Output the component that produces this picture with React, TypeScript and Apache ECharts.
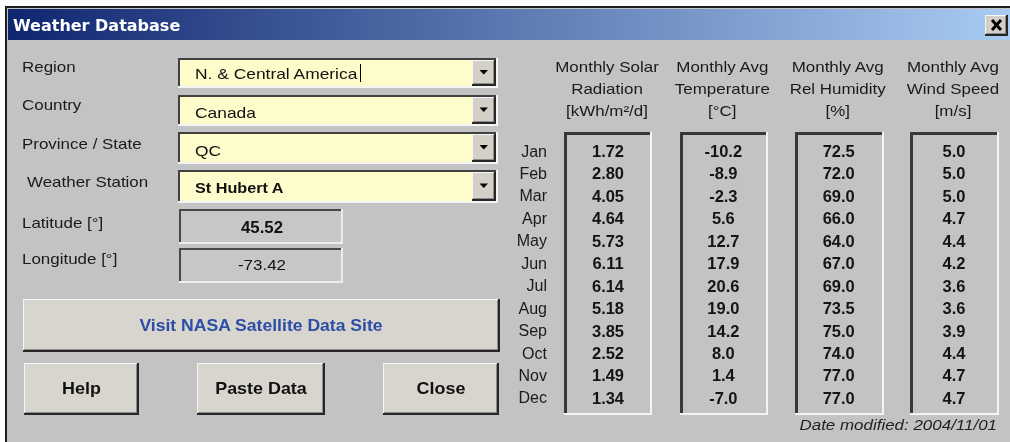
import React, { useEffect, useRef } from "react";
import * as echarts from "echarts";

// ---------- data ----------
const months = ["Jan", "Feb", "Mar", "Apr", "May", "Jun", "Jul", "Aug", "Sep", "Oct", "Nov", "Dec"];
const solarRadiation = [1.72, 2.8, 4.05, 4.64, 5.73, 6.11, 6.14, 5.18, 3.85, 2.52, 1.49, 1.34];
const avgTemperature = [-10.2, -8.9, -2.3, 5.6, 12.7, 17.9, 20.6, 19.0, 14.2, 8.0, 1.4, -7.0];
const relHumidity = [72.5, 72.0, 69.0, 66.0, 64.0, 67.0, 69.0, 73.5, 75.0, 74.0, 77.0, 77.0];
const windSpeed = [5.0, 5.0, 5.0, 4.7, 4.4, 4.2, 3.6, 3.6, 3.9, 4.4, 4.7, 4.7];
const columnHeaders = [
  ["Monthly Solar", "Radiation", "[kWh/m²/d]"],
  ["Monthly Avg", "Temperature", "[°C]"],
  ["Monthly Avg", "Rel Humidity", "[%]"],
  ["Monthly Avg", "Wind Speed", "[m/s]"],
];
const columnDecimals = [2, 1, 1, 1];
const titleText = "Weather Database";
const formLabels = ["Region", "Country", "Province / State", "Weather Station", "Latitude [°]", "Longitude [°]"];
const dropdownValues = ["N. & Central America", "Canada", "QC", "St Hubert A"];
const latitudeText = "45.52";
const longitudeText = "-73.42";
const linkLabel = "Visit NASA Satellite Data Site";
const buttonLabels = ["Help", "Paste Data", "Close"];
const dateModified = "Date modified: 2004/11/01";

// ---------- styling helpers ----------
const FONT = '"Liberation Sans", Arial, Helvetica, sans-serif';
const BODY = "#c3c3c3";
const FACE = "#d8d5ce";
const SX = 1.13;

function txt(x: number, y: number, text: string, o: any = {}) {
  const align = o.align || "left";
  return {
    type: "text",
    x,
    y,
    scaleX: o.sx ?? SX,
    silent: true,
    z: 10,
    style: {
      text,
      fill: o.color || "#1a1a1a",
      fontSize: o.size || 15,
      fontFamily: o.family || FONT,
      fontWeight: o.weight || "normal",
      fontStyle: o.fstyle || "normal",
      textAlign: align,
      align,
      textVerticalAlign: "middle",
      verticalAlign: "middle",
    },
  };
}
function rect(x: number, y: number, w: number, h: number, fill: any) {
  return { type: "rect", silent: true, shape: { x, y, width: w, height: h }, style: { fill } };
}
function sunken(x1: number, y1: number, x2: number, y2: number, fill: string, dk = "#3a3a3a", lt = "#f2f2f2", td = 2, tl = 2) {
  const w = x2 - x1, h = y2 - y1;
  return [
    rect(x1, y1, w, h, lt),
    rect(x1, y1, w - tl, h - tl, dk),
    rect(x1 + td, y1 + td, w - td - tl, h - td - tl, fill),
  ];
}
function raised(x1: number, y1: number, x2: number, y2: number, face: string) {
  const w = x2 - x1, h = y2 - y1;
  return [
    rect(x1, y1, w, h, "#262626"),
    rect(x1, y1, w - 2, h - 2, "#f6f6f6"),
    rect(x1 + 1, y1 + 1, w - 3, h - 3, "#8c8c8c"),
    rect(x1 + 1, y1 + 1, w - 4, h - 4, face),
  ];
}

function buildGraphic() {
  const g: any[] = [];
  // window frame
  g.push(rect(5, 6, 1010, 440, "#1e1e1e"));
  g.push(rect(7, 8, 1008, 436, BODY));
  g.push(
    rect(8, 9, 1004, 31, new echarts.graphic.LinearGradient(0, 0, 1, 0, [
      { offset: 0, color: "#0f2670" },
      { offset: 1, color: "#a9ccf2" },
    ]))
  );
  g.push(txt(13, 25, titleText, { size: 16, weight: "bold", family: '"DejaVu Sans", Verdana, sans-serif', color: "#ffffff", sx: 1 }));
  // close button
  g.push(...raised(985, 15, 1008, 36, "#d4d0c8"));
  g.push({ type: "line", silent: true, z: 10, shape: { x1: 992, y1: 20, x2: 1001, y2: 30 }, style: { stroke: "#000", lineWidth: 3 } });
  g.push({ type: "line", silent: true, z: 10, shape: { x1: 1001, y1: 20, x2: 992, y2: 30 }, style: { stroke: "#000", lineWidth: 3 } });

  // form labels
  const labelY = [67, 105, 144, 182, 223, 259];
  const labelX = [22, 22, 22, 27, 22, 22];
  formLabels.forEach((l, i) => g.push(txt(labelX[i], labelY[i], l)));

  // dropdowns
  const dd = [[58, 88], [95, 126], [132, 164], [170, 203]];
  const ddTextY = [73, 112, 150, 188];
  dd.forEach(([y1, y2], i) => {
    g.push(...sunken(178, y1, 498, y2, "#fffccc", "#404040", "#f4f4f4", 2, 2));
    g.push(...raised(472, y1 + 2, 496, y2 - 2, "#d4d0c8"));
    const cy = (y1 + y2) / 2 - 1;
    g.push({
      type: "polygon", silent: true, z: 10,
      shape: { points: [[479.5, cy - 2], [488, cy - 2], [483.75, cy + 2.5]] },
      style: { fill: "#000" },
    });
    g.push(txt(195, ddTextY[i], dropdownValues[i], { color: "#111", weight: i === 3 ? "bold" : "normal", sx: i === 3 ? 1.08 : 1.16 }));
  });
  // text cursor
  g.push({ type: "line", silent: true, z: 10, shape: { x1: 360.5, y1: 64, x2: 360.5, y2: 82 }, style: { stroke: "#000", lineWidth: 1 } });

  // latitude / longitude boxes
  g.push(...sunken(179, 209, 343, 244, "#c7c7c7", "#484848", "#eeeeee", 2, 2));
  g.push(...sunken(179, 248, 343, 283, "#c7c7c7", "#484848", "#eeeeee", 2, 2));
  g.push(txt(262, 227, latitudeText, { align: "center", weight: "bold", size: 16, sx: 1.05, color: "#111" }));
  g.push(txt(262, 265, longitudeText, { align: "center", size: 15, color: "#111" }));

  // buttons
  g.push(...raised(23, 299, 500, 352, FACE));
  g.push(txt(261, 326, linkLabel, { align: "center", weight: "bold", size: 16, sx: 1.1, color: "#2c4ea6" }));
  const btns = [[24, 139], [197, 325], [383, 499]];
  btns.forEach(([x1, x2], i) => {
    g.push(...raised(x1, 363, x2, 415, FACE));
    g.push(txt((x1 + x2) / 2, 389, buttonLabels[i], { align: "center", weight: "bold", size: 16, sx: 1.12, color: "#111" }));
  });

  // data boxes
  const boxes = [[564, 652], [680, 768], [795, 884], [910, 999]];
  boxes.forEach(([x1, x2]) => g.push(...sunken(x1, 132, x2, 415, BODY, "#383838", "#f4f4f4", 3, 2)));

  g.push(txt(997, 425, dateModified, { align: "right", fstyle: "italic", size: 15, color: "#222" }));
  return g;
}

const valueColumns = [solarRadiation, avgTemperature, relHumidity, windSpeed];

function buildOption(): any {
  const valueSeries = valueColumns.map((col, ci) => ({
    type: "custom",
    name: columnHeaders[ci].join(" "),
    coordinateSystem: "cartesian2d",
    clip: false,
    z: 5,
    encode: { x: 0, y: 1 },
    data: col.map((v, mi) => [ci, mi, v]),
    renderItem: (params: any, api: any) => {
      const p = api.coord([api.value(0), api.value(1)]);
      return {
        type: "text",
        x: p[0],
        y: p[1],
        scaleX: 1.03,
        style: {
          text: Number(api.value(2)).toFixed(columnDecimals[ci]),
          fill: "#141414",
          fontSize: 16,
          fontWeight: "bold",
          fontFamily: FONT,
          textAlign: "center",
          align: "center",
          textVerticalAlign: "middle",
          verticalAlign: "middle",
        },
      };
    },
  }));

  const headerSeries = {
    type: "custom",
    name: "headers",
    coordinateSystem: "cartesian2d",
    clip: false,
    z: 5,
    encode: { x: 0, y: 1 },
    data: columnHeaders.map((_, ci) => [ci, 0]),
    renderItem: (params: any, api: any) => {
      const ci = api.value(0);
      const p = api.coord([ci, 0]);
      const offs = [-84, -62, -40];
      return {
        type: "group",
        children: columnHeaders[ci].map((line, li) => ({
          type: "text",
          x: p[0] - 1,
          y: p[1] + offs[li],
          scaleX: SX,
          style: {
            text: line,
            fill: "#1a1a1a",
            fontSize: 15,
            fontFamily: FONT,
            textAlign: "center",
            align: "center",
            textVerticalAlign: "middle",
            verticalAlign: "middle",
          },
        })),
      };
    },
  };

  return {
    animation: false,
    backgroundColor: "transparent",
    graphic: { elements: buildGraphic() },
    grid: { left: 608, right: 56, top: 139.8, bottom: 32.8, containLabel: false, outerBoundsMode: "none" },
    xAxis: { type: "value", min: 0, max: 3, interval: 1, show: false },
    yAxis: {
      type: "category",
      data: months,
      inverse: true,
      boundaryGap: true,
      axisLine: { show: false },
      axisTick: { show: false },
      splitLine: { show: false },
      axisLabel: { fontSize: 16, color: "#1a1a1a", fontFamily: FONT, margin: 61 },
    },
    series: [headerSeries, ...valueSeries],
  };
}

export default function App() {
  const ref = useRef<HTMLDivElement>(null);
  useEffect(() => {
    const chart = echarts.init(ref.current as HTMLDivElement, null, { renderer: "svg" });
    chart.setOption(buildOption());
    return () => chart.dispose();
  }, []);
  return <div ref={ref} style={{ position: "fixed", left: 0, top: 0, width: 1010, height: 442 }} />;
}
